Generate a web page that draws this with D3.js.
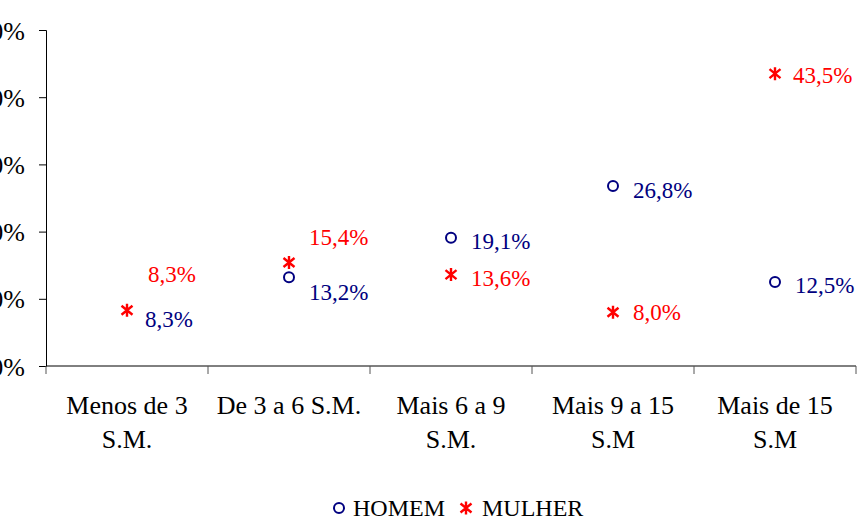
<!DOCTYPE html>
<head>
    <meta charset='utf-8'>
    <title>Renda por sexo</title>
    <script src='https://cdn.jsdelivr.net/npm/d3@7/dist/d3.min.js'></script>
</head>
<style>
body {
  margin: 0;
  background: #fff;
}
svg text {
  font-family: 'Liberation Serif', 'Times New Roman', 'DejaVu Serif', serif;
}
</style>
<body>
    <svg></svg>
</body>

<script>

    // Data
    var categories = ['Menos de 3|S.M.', 'De 3 a 6 S.M.', 'Mais 6 a 9|S.M.', 'Mais 9 a 15|S.M', 'Mais de 15|S.M'];
    var homem = [8.3, 13.2, 19.1, 26.8, 12.5];
    var mulher = [8.3, 15.4, 13.6, 8.0, 43.5];
    var yTicks = [0, 10, 20, 30, 40, 50];

    // Label nudges (dx, baseline dy) so labels don't collide
    var homemLabelPos = [[18, 17], [20, 23], [20, 11], [20, 12], [20, 11]];
    var mulherLabelPos = [[21, -28], [20, -18], [20, 11], [20, 8], [18, 9]];

    var vWidth = 858;
    var vHeight = 521;
    var navy = '#000080';
    var red = '#ff0000';
    var serif = "'Liberation Serif', 'Times New Roman', serif";

    var svg = d3.select('svg')
        .attr('width', vWidth)
        .attr('height', vHeight)
        .attr('font-family', serif);

    var x = d3.scaleBand()
        .domain(categories)
        .range([46, 856]);

    var y = d3.scaleLinear()
        .domain([0, 50])
        .range([366, 30]);

    // Y axis
    var yAxis = svg.append('g')
        .attr('transform', 'translate(46,0)')
        .call(d3.axisLeft(y).tickValues(yTicks).tickSize(7).tickPadding(14)
            .tickFormat(function (d) { return d + '%'; }));
    yAxis.attr('font-family', serif).attr('font-size', 26);
    yAxis.selectAll('text')
        .attr('dy', '0.35em')
        .attr('fill', '#000');

    // X axis (ticks on band edges)
    var xAxis = svg.append('g')
        .attr('transform', 'translate(0,366)');
    xAxis.append('line')
        .attr('x1', 46).attr('x2', 856)
        .attr('stroke', '#000');
    xAxis.selectAll('line.tick')
        .data(categories.concat(['end']))
        .enter().append('line')
        .attr('class', 'tick')
        .attr('x1', function (d, i) { return i < categories.length ? x(d) : x(categories[categories.length - 1]) + x.bandwidth(); })
        .attr('x2', function (d, i) { return i < categories.length ? x(d) : x(categories[categories.length - 1]) + x.bandwidth(); })
        .attr('y1', 0).attr('y2', 8)
        .attr('stroke', '#555');

    var catLabel = xAxis.selectAll('text.cat')
        .data(categories)
        .enter().append('text')
        .attr('class', 'cat')
        .attr('text-anchor', 'middle')
        .attr('font-size', '26px')
        .attr('fill', '#000');
    catLabel.each(function (d) {
        var lines = d.split('|');
        var t = d3.select(this);
        lines.forEach(function (l, i) {
            t.append('tspan')
                .attr('x', x(d) + x.bandwidth() / 2)
                .attr('y', 48 + i * 34)
                .text(l);
        });
    });

    var starPath = 'M0,-6.5V6.5M-5.5,-4.5L5.5,4.5M-5.5,4.5L5.5,-4.5';
    var fmt = function (v) { return v.toFixed(1).replace('.', ',') + '%'; };
    var cx = function (i) { return x(categories[i]) + x.bandwidth() / 2; };

    // HOMEM markers
    svg.append('g').selectAll('circle')
        .data(homem)
        .enter().append('circle')
        .attr('cx', function (d, i) { return cx(i); })
        .attr('cy', function (d) { return y(d); })
        .attr('r', 5)
        .attr('fill', '#fff')
        .attr('stroke', navy)
        .attr('stroke-width', 2);

    // MULHER markers (white backdrop hides overlapping circle)
    var stars = svg.append('g').selectAll('g')
        .data(mulher)
        .enter().append('g')
        .attr('transform', function (d, i) { return 'translate(' + cx(i) + ',' + y(d) + ')'; });
    stars.append('circle').attr('r', 7.5).attr('fill', '#fff');
    stars.append('path')
        .attr('d', starPath)
        .attr('stroke', red)
        .attr('stroke-width', 2.4)
        .attr('fill', 'none');

    // Data labels
    svg.append('g').selectAll('text')
        .data(homem)
        .enter().append('text')
        .attr('x', function (d, i) { return cx(i) + homemLabelPos[i][0]; })
        .attr('y', function (d, i) { return y(d) + homemLabelPos[i][1]; })
        .attr('font-size', '23px')
        .attr('fill', navy)
        .text(fmt);

    svg.append('g').selectAll('text')
        .data(mulher)
        .enter().append('text')
        .attr('x', function (d, i) { return cx(i) + mulherLabelPos[i][0]; })
        .attr('y', function (d, i) { return y(d) + mulherLabelPos[i][1]; })
        .attr('font-size', '23px')
        .attr('fill', red)
        .text(fmt);

    // Legend
    var legend = svg.append('g').attr('transform', 'translate(0,508)');
    legend.append('circle')
        .attr('cx', 339).attr('cy', 0).attr('r', 5)
        .attr('fill', '#fff').attr('stroke', navy).attr('stroke-width', 2);
    legend.append('text')
        .attr('x', 353).attr('y', 8)
        .attr('font-size', '24px').attr('fill', '#000')
        .text('HOMEM');
    legend.append('path')
        .attr('transform', 'translate(466,0)')
        .attr('d', starPath)
        .attr('stroke', red).attr('stroke-width', 2.4).attr('fill', 'none');
    legend.append('text')
        .attr('x', 482).attr('y', 8)
        .attr('font-size', '24px').attr('fill', '#000')
        .text('MULHER');

</script>
